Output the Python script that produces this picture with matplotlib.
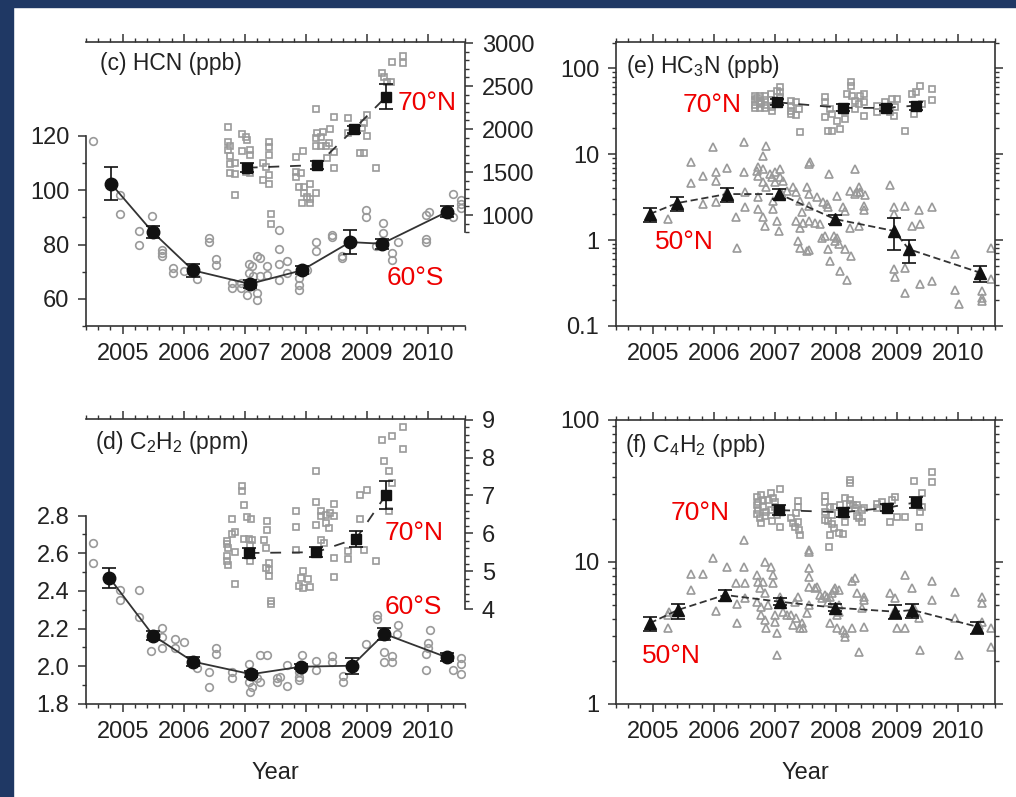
import numpy as np
import matplotlib
matplotlib.use("Agg")
import matplotlib.pyplot as plt
from matplotlib.patches import Rectangle
from matplotlib.ticker import MultipleLocator, FixedLocator, FuncFormatter, NullFormatter, LogLocator

plt.rcParams['font.family'] = ['Liberation Sans', 'DejaVu Sans']

# ---------------- data (year, value) ----------------
# (c) HCN, 60S single profiles (left axis, ppb)
hcn_s_pts = [(2004.51, 118.2), (2004.96, 98.3), (2004.96, 91.2), (2005.26, 85.1), (2005.26, 79.9),
             (2005.48, 90.6), (2005.65, 78.1), (2005.65, 76.9), (2005.65, 75.9), (2005.83, 71.4),
             (2005.83, 69.5), (2006.00, 70.1), (2006.22, 67.3), (2006.41, 82.4), (2006.41, 81.1),
             (2006.52, 74.7), (2006.52, 72.3), (2006.79, 65.8), (2006.79, 64.0), (2006.93, 65.8),
             (2006.93, 64.0), (2007.06, 72.8), (2007.12, 72.0), (2007.20, 75.6), (2007.25, 75.0),
             (2007.06, 69.5), (2007.06, 65.8), (2007.14, 68.3), (2007.25, 68.3), (2007.36, 72.0),
             (2007.36, 68.9), (2007.04, 61.6), (2007.20, 62.2), (2007.20, 59.7), (2007.55, 85.4),
             (2007.55, 78.3), (2007.55, 72.8), (2007.69, 73.8), (2007.69, 69.5), (2007.55, 67.1),
             (2007.88, 67.7), (2007.88, 65.2), (2007.88, 63.4), (2008.02, 70.7), (2008.16, 81.1),
             (2008.16, 77.8), (2008.43, 83.6), (2008.43, 82.8), (2008.59, 75.9), (2008.59, 75.0),
             (2008.98, 92.8), (2008.98, 90.3), (2009.14, 79.3), (2009.26, 88.1), (2009.26, 84.4),
             (2009.41, 76.9), (2009.41, 74.4), (2009.50, 81.1), (2009.96, 90.9), (2010.01, 92.1),
             (2009.96, 82.0), (2009.96, 81.0), (2010.40, 98.6), (2010.53, 96.5), (2010.53, 95.0),
             (2010.53, 93.4), (2010.40, 90.3)]
# (c) HCN, 70N single profiles (right axis, ppb)
hcn_n_pts = [(2006.73, 2027), (2006.96, 1942), (2007.01, 1910), (2007.04, 1872), (2006.73, 1852),
             (2006.76, 1802), (2006.72, 1756), (2006.75, 1686), (2006.75, 1593), (2006.75, 1492),
             (2006.83, 1600), (2006.83, 1477), (2006.83, 1232), (2006.95, 1744), (2007.09, 1756),
             (2007.09, 1698), (2007.01, 1503), (2007.09, 1485), (2007.30, 1600), (2007.34, 1561),
             (2007.39, 1845), (2007.39, 1787), (2007.39, 1698), (2007.30, 1407), (2007.39, 1357),
             (2007.39, 1465), (2007.42, 1008), (2007.42, 892), (2007.83, 1678), (2007.83, 1445),
             (2007.83, 1503), (2007.95, 1748), (2007.91, 1485), (2007.88, 1329), (2007.96, 1329),
             (2008.06, 1360), (2007.96, 1252), (2008.06, 1182), (2007.94, 1143), (2008.06, 1143),
             (2008.02, 1205), (2008.17, 1259), (2008.16, 2229), (2008.16, 1899), (2008.18, 1957),
             (2008.27, 1969), (2008.24, 1910), (2008.16, 1802), (2008.24, 1802), (2008.32, 1802),
             (2008.37, 1833), (2008.39, 1996), (2008.46, 2143), (2008.46, 1736), (2008.34, 1659),
             (2008.46, 1543), (2008.68, 2124), (2008.68, 1950), (2008.94, 2073), (2009.00, 2163),
             (2008.92, 2008), (2009.00, 1918), (2008.89, 1724), (2008.95, 1717), (2009.14, 1550),
             (2009.25, 2655), (2009.28, 2608), (2009.33, 2550), (2009.39, 2550), (2009.40, 2783),
             (2009.58, 2849), (2009.58, 2764)]
hcn_s_mean_x = [2004.81, 2005.49, 2006.15, 2007.08, 2007.93, 2008.72, 2009.24, 2010.31]
hcn_s_mean = [102.4, 84.6, 70.5, 65.5, 70.5, 80.9, 80.3, 92.1]
hcn_s_err = [6.0, 2.2, 2.5, 1.5, 1.5, 4.5, 1.8, 2.0]
hcn_n_mean_x = [2007.03, 2008.18, 2008.78, 2009.31]
hcn_n_mean = [1550, 1581, 1996, 2376]
hcn_n_err = [50, 50, 45, 145]

# (d) C2H2, 60S (left axis, ppm)
c2h2_s_pts = [(2004.51, 2.653), (2004.51, 2.547), (2004.96, 2.405), (2004.96, 2.352), (2005.26, 2.405),
              (2005.26, 2.264), (2005.47, 2.081), (2005.64, 2.205), (2005.64, 2.157), (2005.64, 2.099),
              (2005.85, 2.143), (2005.85, 2.099), (2006.00, 2.128), (2006.22, 1.990), (2006.41, 1.972),
              (2006.41, 1.892), (2006.52, 2.099), (2006.52, 2.064), (2006.79, 1.972), (2006.79, 1.940),
              (2007.06, 2.011), (2007.06, 1.919), (2007.09, 1.865), (2007.12, 1.892), (2007.20, 1.936),
              (2007.25, 1.919), (2007.25, 2.060), (2007.36, 2.060), (2007.53, 1.936), (2007.53, 1.919),
              (2007.58, 1.945), (2007.69, 2.007), (2007.69, 1.897), (2007.88, 1.972), (2007.88, 1.945),
              (2007.88, 1.928), (2007.94, 2.060), (2008.16, 2.028), (2008.16, 1.980), (2008.42, 2.057),
              (2008.42, 2.025), (2008.60, 1.949), (2008.60, 1.919), (2008.98, 2.117), (2009.16, 2.273),
              (2009.16, 2.251), (2009.27, 2.075), (2009.27, 2.022), (2009.40, 2.057), (2009.40, 2.022),
              (2009.50, 2.220), (2009.49, 2.170), (2009.96, 2.064), (2009.99, 2.096), (2010.00, 2.123),
              (2010.02, 2.193), (2009.96, 1.981), (2010.40, 1.981), (2010.53, 2.046), (2010.53, 2.011),
              (2010.53, 1.958)]
# (d) C2H2, 70N (right axis, ppm)
c2h2_n_pts = [(2006.96, 7.24), (2006.96, 7.11), (2006.99, 6.76), (2007.04, 6.42), (2007.10, 6.39),
              (2006.79, 6.39), (2006.71, 5.79), (2006.71, 5.72), (2006.71, 5.39), (2006.71, 5.26),
              (2006.72, 5.17), (2006.79, 5.97), (2006.83, 6.04), (2006.73, 5.61), (2006.83, 5.51),
              (2006.83, 4.66), (2006.99, 5.86), (2007.06, 5.86), (2007.12, 5.81), (2007.09, 5.70),
              (2007.09, 5.26), (2007.31, 5.81), (2007.36, 6.32), (2007.36, 6.10), (2007.35, 5.61),
              (2007.34, 5.09), (2007.39, 4.87), (2007.42, 4.22), (2007.42, 4.14), (2007.39, 5.22),
              (2007.39, 5.04), (2007.83, 6.58), (2007.83, 6.16), (2007.83, 5.57), (2007.95, 5.00),
              (2007.91, 4.82), (2007.88, 4.60), (2007.95, 4.56), (2008.03, 4.78), (2008.06, 4.58),
              (2008.16, 7.64), (2008.16, 6.84), (2008.24, 6.58), (2008.24, 6.45), (2008.32, 6.49),
              (2008.16, 6.23), (2008.32, 6.27), (2008.39, 6.54), (2008.45, 6.78), (2008.37, 6.14),
              (2008.45, 6.47), (2008.24, 5.83), (2008.29, 5.75), (2008.45, 5.35), (2008.45, 4.85),
              (2008.68, 5.53), (2008.68, 5.32), (2008.89, 7.02), (2009.00, 7.15), (2008.89, 6.39),
              (2008.94, 5.57), (2009.14, 5.26), (2009.25, 8.47), (2009.41, 8.56), (2009.58, 8.80),
              (2009.58, 8.23), (2009.28, 7.90), (2009.36, 7.64), (2009.41, 7.33), (2009.36, 6.58)]
c2h2_s_mean_x = [2004.78, 2005.50, 2006.15, 2007.10, 2007.92, 2008.75, 2009.28, 2010.30]
c2h2_s_mean = [2.471, 2.163, 2.025, 1.958, 1.998, 2.003, 2.172, 2.048]
c2h2_s_err = [0.053, 0.025, 0.022, 0.015, 0.012, 0.042, 0.030, 0.020]
c2h2_n_mean_x = [2007.06, 2008.16, 2008.82, 2009.30]
c2h2_n_mean = [5.48, 5.50, 5.86, 7.00]
c2h2_n_err = [0.14, 0.13, 0.21, 0.37]

# (e) HC3N, 50N (ppb)
hc3n_s_pts = [(2005.25, 1.76), (2005.63, 8.04), (2005.63, 4.58), (2005.82, 5.63), (2005.83, 2.63),
              (2005.99, 12.3), (2006.03, 6.15), (2006.03, 4.92), (2006.03, 2.75), (2006.21, 6.92),
              (2006.21, 3.59), (2006.37, 1.87), (2006.38, 0.82), (2006.49, 14.0), (2006.49, 6.15),
              (2006.51, 3.59), (2006.51, 2.40), (2006.70, 6.43), (2006.72, 7.03), (2006.72, 5.63),
              (2006.81, 9.63), (2006.80, 6.74), (2006.81, 4.70), (2006.72, 3.14), (2006.81, 1.84),
              (2006.83, 1.47), (2006.72, 2.30), (2006.86, 12.6), (2006.92, 5.89), (2006.86, 4.11),
              (2006.96, 5.38), (2007.00, 6.15), (2007.00, 4.70), (2006.97, 2.87), (2006.97, 2.30),
              (2007.03, 1.68), (2007.08, 6.74), (2007.07, 1.28), (2007.08, 5.38), (2007.13, 4.92),
              (2007.11, 3.44), (2007.19, 3.76), (2007.30, 4.11), (2007.35, 3.59), (2007.41, 2.87),
              (2007.44, 2.10), (2007.46, 1.60), (2007.35, 1.68), (2007.38, 0.98), (2007.52, 0.75),
              (2007.55, 2.51), (2007.57, 8.04), (2007.52, 4.11), (2007.41, 1.40), (2007.41, 0.82),
              (2007.55, 7.70), (2007.55, 3.44), (2007.55, 1.68), (2007.55, 0.77), (2007.66, 1.60),
              (2007.68, 3.14), (2007.74, 1.56), (2007.77, 1.07), (2007.79, 2.75), (2007.82, 1.11),
              (2007.85, 2.63), (2007.87, 2.40), (2007.87, 0.79), (2007.90, 0.57), (2007.96, 1.12),
              (2007.98, 0.98), (2008.01, 3.29), (2008.01, 1.07), (2008.04, 0.90), (2008.07, 0.44),
              (2008.12, 2.40), (2008.15, 2.20), (2008.15, 0.79), (2008.18, 0.34), (2008.23, 3.76),
              (2008.24, 0.66), (2008.31, 6.74), (2008.31, 3.44), (2008.37, 4.11), (2008.39, 3.59),
              (2008.45, 2.51), (2008.45, 2.24), (2008.47, 3.38), (2008.37, 1.47), (2008.23, 1.40),
              (2008.34, 3.59), (2007.89, 5.89), (2008.89, 4.42), (2008.95, 2.40), (2008.94, 2.04),
              (2008.94, 0.46), (2008.97, 0.37), (2009.13, 2.51), (2009.13, 0.48), (2009.13, 0.245),
              (2009.24, 1.47), (2009.35, 2.24), (2009.38, 1.54), (2009.38, 0.31), (2009.57, 2.40),
              (2009.57, 0.335), (2009.95, 0.69), (2009.95, 0.26), (2010.01, 0.182), (2010.39, 0.256),
              (2010.39, 0.214), (2010.39, 0.196), (2010.53, 0.82), (2010.53, 0.35), (2010.36, 0.44)]
# (e) HC3N, 70N (ppb)
hc3n_n_pts = [(2006.67, 48.3), (2006.75, 48.3), (2006.83, 48.3), (2006.67, 43.0), (2006.75, 42.2),
              (2006.83, 43.0), (2006.67, 37.6), (2006.75, 38.6), (2006.83, 37.6), (2006.67, 34.3),
              (2006.75, 34.3), (2006.83, 34.3), (2006.70, 45.0), (2006.78, 40.0), (2006.94, 50.5),
              (2007.03, 55.2), (2007.09, 60.4), (2007.09, 52.7), (2006.94, 43.0), (2006.95, 35.3),
              (2006.95, 32.3), (2007.09, 46.5), (2007.27, 42.2), (2007.27, 36.9), (2007.27, 32.3),
              (2007.35, 40.3), (2007.40, 33.8), (2007.35, 29.0), (2007.27, 29.5), (2007.41, 18.0),
              (2007.82, 46.1), (2007.82, 40.3), (2007.82, 27.0), (2007.90, 33.8), (2007.93, 29.5),
              (2007.87, 18.8), (2007.93, 18.8), (2008.07, 19.7), (2008.01, 24.7), (2008.15, 32.3),
              (2008.15, 25.8), (2008.18, 50.5), (2008.24, 69.0), (2008.24, 63.1), (2008.26, 48.3),
              (2008.31, 42.2), (2008.37, 38.6), (2008.39, 48.3), (2008.45, 50.5), (2008.45, 40.3),
              (2008.45, 28.2), (2008.31, 33.8), (2008.67, 36.9), (2008.67, 30.8), (2008.80, 40.3),
              (2008.89, 30.8), (2008.91, 44.2), (2009.00, 44.2), (2008.97, 35.9), (2008.94, 28.2),
              (2009.13, 18.8), (2009.24, 50.5), (2009.30, 52.7), (2009.38, 63.1), (2009.41, 38.6),
              (2009.57, 57.8), (2009.57, 43.0), (2009.27, 29.5)]
hc3n_s_mean_x = [2004.95, 2005.40, 2006.21, 2007.07, 2007.98, 2008.95, 2009.19, 2010.35]
hc3n_s_mean = [2.01, 2.70, 3.44, 3.44, 1.76, 1.28, 0.785, 0.419]
hc3n_s_lo = [1.64, 2.16, 2.75, 3.01, 1.56, 0.76, 0.548, 0.329]
hc3n_s_hi = [2.34, 3.14, 4.05, 3.94, 1.97, 1.81, 1.00, 0.50]
hc3n_n_mean_x = [2007.03, 2008.11, 2008.82, 2009.30]
hc3n_n_mean = [40.3, 34.7, 34.7, 36.9]
hc3n_n_lo = [37.5, 32.0, 32.0, 33.0]
hc3n_n_hi = [43.5, 38.0, 37.5, 41.0]

# (f) C4H2, 50N (ppb)
c4h2_s_pts = [(2005.25, 3.41), (2005.27, 4.47), (2005.25, 4.24), (2005.63, 8.19), (2005.63, 6.35),
              (2005.82, 8.19), (2005.99, 10.7), (2006.03, 4.52), (2006.21, 9.26), (2006.37, 7.08),
              (2006.38, 5.04), (2006.38, 3.70), (2006.49, 14.3), (2006.49, 9.26), (2006.51, 7.08),
              (2006.51, 5.60), (2006.70, 8.10), (2006.72, 7.27), (2006.75, 6.53), (2006.70, 5.25),
              (2006.78, 4.84), (2006.78, 4.24), (2006.83, 3.91), (2006.81, 7.27), (2006.83, 10.05),
              (2006.94, 9.26), (2006.83, 6.02), (2006.89, 4.98), (2006.97, 7.08), (2006.97, 8.10),
              (2007.00, 4.24), (2007.03, 3.15), (2007.03, 2.21), (2007.00, 3.80), (2007.08, 5.70),
              (2007.13, 4.47), (2007.19, 4.24), (2007.11, 5.12), (2006.86, 3.41), (2007.27, 4.24),
              (2007.30, 3.60), (2007.33, 5.25), (2007.38, 5.70), (2007.35, 4.01), (2007.41, 3.41),
              (2007.44, 3.70), (2007.46, 3.41), (2007.52, 4.35), (2007.55, 12.2), (2007.55, 4.98),
              (2007.55, 11.8), (2007.55, 9.12), (2007.55, 7.87), (2007.55, 6.70), (2007.66, 6.53),
              (2007.68, 6.70), (2007.74, 5.86), (2007.77, 5.60), (2007.82, 5.86), (2007.85, 5.70),
              (2007.87, 5.25), (2007.90, 5.70), (2007.93, 6.02), (2007.96, 6.35), (2007.98, 6.53),
              (2008.04, 6.35), (2007.90, 3.70), (2008.04, 4.98), (2008.01, 4.24), (2008.01, 3.41),
              (2008.12, 3.32), (2008.15, 3.15), (2008.15, 2.98), (2008.26, 3.41), (2008.31, 7.68),
              (2008.26, 7.38), (2008.34, 6.02), (2008.37, 2.34), (2008.42, 4.72), (2008.45, 5.70),
              (2008.45, 5.40), (2008.45, 3.50), (2008.04, 4.47), (2008.89, 6.02), (2008.94, 4.47),
              (2008.97, 5.55), (2009.00, 3.41), (2009.13, 8.10), (2009.13, 3.41), (2009.24, 6.59),
              (2009.27, 4.77), (2009.35, 4.06), (2009.38, 2.40), (2009.57, 7.35), (2009.57, 5.40),
              (2009.95, 6.18), (2009.95, 4.06), (2010.01, 2.21), (2010.39, 5.70), (2010.39, 5.12),
              (2010.39, 3.80), (2010.53, 3.41), (2010.53, 2.53), (2010.34, 3.60)]
# (f) C4H2, 70N (ppb)
c4h2_n_pts = [(2006.70, 28.8), (2006.72, 26.6), (2006.72, 23.2), (2006.70, 25.2), (2006.78, 29.6),
              (2006.81, 27.3), (2006.81, 24.5), (2006.86, 22.6), (2006.83, 21.1), (2006.78, 18.7),
              (2006.70, 21.7), (2006.75, 20.3), (2006.89, 27.3), (2006.94, 30.5), (2006.97, 28.4),
              (2007.00, 26.3), (2006.94, 23.2), (2007.03, 21.4), (2007.08, 32.7), (2007.08, 17.7),
              (2006.96, 19.4), (2007.00, 24.5), (2007.27, 20.3), (2007.30, 18.7), (2007.33, 17.7),
              (2007.38, 26.9), (2007.38, 24.5), (2007.35, 22.0), (2007.41, 15.5), (2007.40, 16.8),
              (2007.38, 19.2), (2007.82, 29.3), (2007.82, 26.6), (2007.82, 22.4), (2007.82, 19.8),
              (2007.90, 24.5), (2007.93, 21.4), (2007.93, 18.4), (2007.96, 17.3), (2007.87, 19.4),
              (2007.89, 12.8), (2007.90, 15.5), (2007.96, 24.5), (2008.05, 15.9), (2008.07, 25.2),
              (2008.15, 19.2), (2008.12, 15.7), (2008.15, 28.1), (2008.23, 27.3), (2008.23, 37.8),
              (2008.23, 35.8), (2008.23, 25.5), (2008.28, 25.2), (2008.31, 23.9), (2008.34, 25.2),
              (2008.37, 20.3), (2008.42, 23.2), (2008.42, 19.0), (2008.45, 23.9), (2008.34, 21.1),
              (2008.67, 25.5), (2008.67, 24.1), (2008.75, 26.3), (2008.89, 19.2), (2008.91, 27.3),
              (2008.97, 28.8), (2009.00, 20.8), (2009.13, 20.8), (2009.27, 37.2), (2009.35, 17.7),
              (2009.38, 22.6), (2009.41, 24.5), (2009.41, 30.5), (2009.57, 42.8), (2009.57, 36.8),
              (2009.33, 25.2)]
c4h2_s_mean_x = [2004.95, 2005.41, 2006.18, 2007.08, 2007.98, 2008.96, 2009.25, 2010.31]
c4h2_s_mean = [3.70, 4.59, 5.86, 5.25, 4.77, 4.47, 4.59, 3.50]
c4h2_s_lo = [3.26, 3.97, 5.33, 4.95, 4.50, 3.95, 4.06, 3.11]
c4h2_s_hi = [4.12, 5.03, 6.35, 5.55, 5.05, 4.98, 5.03, 3.80]
c4h2_n_mean_x = [2007.07, 2008.11, 2008.84, 2009.30]
c4h2_n_mean = [23.2, 22.4, 24.1, 26.3]
c4h2_n_lo = [21.5, 20.8, 22.8, 24.0]
c4h2_n_hi = [25.0, 24.0, 25.5, 28.8]

# ---------------- styling ----------------
W, H = 1016, 797
GRAY = '#9a9a9a'
DARK = '#111111'
LINE = '#333333'
TXT = '#222222'
RED = '#ee0000'
TICK_FS = 17


def px_axes(fig, left, right, top, bottom):
    return fig.add_axes([left / W, (H - bottom) / H, (right - left) / W, (bottom - top) / H])


def style_common(ax):
    for s in ax.spines.values():
        s.set_linewidth(1.2)
        s.set_color(LINE)
    ax.tick_params(which='major', length=6, width=1.1, color=LINE, labelcolor=TXT,
                   labelsize=TICK_FS, pad=6, direction='out')
    ax.tick_params(which='minor', length=3, width=1.0, color=LINE, direction='out')


def style_x(ax):
    ax.set_xlim(2004.4, 2010.6)
    ax.xaxis.set_major_locator(MultipleLocator(1))
    ax.xaxis.set_minor_locator(MultipleLocator(0.2))
    ax.xaxis.set_major_formatter(FuncFormatter(lambda v, p: f"{v:.0f}"))
    ax.tick_params(axis='x', which='both', top=True, bottom=True, labeltop=False)


def scatter(ax, pts, marker, ms):
    a = np.array(pts).T
    ax.plot(a[0], a[1], ls='none', marker=marker, ms=ms, mfc='none', mec=GRAY, mew=1.2, zorder=2)


def means(ax, x, y, err, marker, ms, ls):
    ax.errorbar(x, y, yerr=err, fmt='none', ecolor=DARK, elinewidth=1.2, capsize=4.8,
                capthick=1.2, zorder=4)
    ax.plot(x, y, color=LINE, lw=1.3, ls=ls, zorder=3)
    ax.plot(x, y, ls='none', marker=marker, ms=ms, mfc=DARK, mec=DARK, zorder=5)


def asym(mean, lo, hi):
    m = np.array(mean)
    return [m - np.array(lo), np.array(hi) - m]


def title(ax, x, y, s):
    ax.text(x, y, s, transform=ax.transAxes, va='center', ha='left', fontsize=16.5, color=TXT)


def red(ax, x, y, s):
    ax.text(x, y, s, transform=ax.transAxes, va='center', ha='left', fontsize=19, color=RED)


fig = plt.figure(figsize=(W / 100, H / 100), dpi=100)
fig.patch.set_facecolor('white')
fig.add_artist(Rectangle((0, 0), 13 / W, 1, transform=fig.transFigure, color='#1f3864', zorder=0))
fig.add_artist(Rectangle((0, 1 - 7 / H), 1, 7 / H, transform=fig.transFigure, color='#1f3864', zorder=0))


def twin_panel(ax, left_lim, left_bounds, left_major, left_minor,
               right_lim, right_bounds, right_major, right_minor, right_fmt):
    style_common(ax)
    style_x(ax)
    ax.set_ylim(*left_lim)
    ax.spines['right'].set_visible(False)
    ax.spines['left'].set_bounds(*left_bounds)
    ax.yaxis.set_major_locator(FixedLocator(left_major))
    ax.yaxis.set_minor_locator(FixedLocator(left_minor))
    ax.tick_params(axis='y', which='both', left=True, right=False)
    ax2 = ax.twinx()
    style_common(ax2)
    ax2.set_ylim(*right_lim)
    for s in ('left', 'top', 'bottom'):
        ax2.spines[s].set_visible(False)
    ax2.spines['right'].set_bounds(*right_bounds)
    ax2.yaxis.set_major_locator(FixedLocator(right_major))
    ax2.yaxis.set_minor_locator(FixedLocator(right_minor))
    ax2.yaxis.set_major_formatter(FuncFormatter(right_fmt))
    ax2.tick_params(axis='y', which='both', left=False, right=True)
    return ax2


# ---- (c) HCN ----
ax = px_axes(fig, 86, 465, 42, 326)
ax2 = twin_panel(ax, (50, 154.6), (50, 120), [60, 80, 100, 120], [50, 70, 90, 110],
                 (-290, 3012), (800, 3000), [1000, 1500, 2000, 2500, 3000],
                 np.arange(800, 3001, 100), lambda v, p: f"{v:.0f}")
ax.yaxis.set_major_formatter(FuncFormatter(lambda v, p: f"{v:.0f}"))
scatter(ax, hcn_s_pts, 'o', 5.5)
scatter(ax2, hcn_n_pts, 's', 3.8)
means(ax, hcn_s_mean_x, hcn_s_mean, hcn_s_err, 'o', 9, '-')
means(ax2, hcn_n_mean_x, hcn_n_mean, hcn_n_err, 's', 7, (0, (6, 6)))
title(ax, 0.037, 0.926, '(c) HCN (ppb)')
red(ax, 0.823, 0.785, '70°N')
red(ax, 0.792, 0.169, '60°S')

# ---- (d) C2H2 ----
ax = px_axes(fig, 86, 465, 419, 704)
ax2 = twin_panel(ax, (1.8, 3.312), (1.8, 2.8), [1.8, 2.0, 2.2, 2.4, 2.6, 2.8],
                 [1.9, 2.1, 2.3, 2.5, 2.7],
                 (1.49, 9.02), (4, 9), [4, 5, 6, 7, 8, 9],
                 np.arange(4, 9.01, 0.2), lambda v, p: f"{v:.0f}")
ax.yaxis.set_major_formatter(FuncFormatter(lambda v, p: f"{v:.1f}"))
scatter(ax, c2h2_s_pts, 'o', 5.5)
scatter(ax2, c2h2_n_pts, 's', 3.8)
means(ax, c2h2_s_mean_x, c2h2_s_mean, c2h2_s_err, 'o', 9, '-')
means(ax2, c2h2_n_mean_x, c2h2_n_mean, c2h2_n_err, 's', 7, (0, (6, 6)))
title(ax, 0.024, 0.916, '(d) C$_\\mathregular{2}$H$_\\mathregular{2}$ (ppm)')
red(ax, 0.789, 0.600, '70°N')
red(ax, 0.789, 0.340, '60°S')
ax.set_xlabel('Year', fontsize=17, color=TXT, labelpad=14)


def log_panel(ax, lim, majors):
    style_common(ax)
    style_x(ax)
    ax.set_yscale('log')
    ax.set_ylim(*lim)
    ax.yaxis.set_major_locator(FixedLocator(majors))
    ax.yaxis.set_minor_locator(LogLocator(base=10, subs=np.arange(2, 10)))
    ax.yaxis.set_major_formatter(FuncFormatter(lambda v, p: f"{v:g}"))
    ax.yaxis.set_minor_formatter(NullFormatter())
    ax.tick_params(axis='y', which='both', left=True, right=True)


# ---- (e) HC3N ----
ax = px_axes(fig, 616, 995, 42, 326)
log_panel(ax, (0.1, 203), [0.1, 1, 10, 100])
scatter(ax, hc3n_s_pts, '^', 5.5)
scatter(ax, hc3n_n_pts, 's', 3.8)
means(ax, hc3n_s_mean_x, hc3n_s_mean, asym(hc3n_s_mean, hc3n_s_lo, hc3n_s_hi), '^', 8, (0, (4, 2)))
means(ax, hc3n_n_mean_x, hc3n_n_mean, asym(hc3n_n_mean, hc3n_n_lo, hc3n_n_hi), 's', 7, (0, (6, 6)))
title(ax, 0.026, 0.912, '(e) HC$_\\mathregular{3}$N (ppb)')
red(ax, 0.177, 0.778, '70°N')
red(ax, 0.103, 0.296, '50°N')

# ---- (f) C4H2 ----
ax = px_axes(fig, 616, 995, 420, 704)
log_panel(ax, (1, 100), [1, 10, 100])
scatter(ax, c4h2_s_pts, '^', 5.5)
scatter(ax, c4h2_n_pts, 's', 3.8)
means(ax, c4h2_s_mean_x, c4h2_s_mean, asym(c4h2_s_mean, c4h2_s_lo, c4h2_s_hi), '^', 8, (0, (4, 2)))
means(ax, c4h2_n_mean_x, c4h2_n_mean, asym(c4h2_n_mean, c4h2_n_lo, c4h2_n_hi), 's', 7, (0, (6, 6)))
title(ax, 0.024, 0.909, '(f) C$_\\mathregular{4}$H$_\\mathregular{2}$ (ppb)')
red(ax, 0.145, 0.674, '70°N')
red(ax, 0.069, 0.168, '50°N')
ax.set_xlabel('Year', fontsize=17, color=TXT, labelpad=14)

fig.savefig('out.png', dpi=100)
